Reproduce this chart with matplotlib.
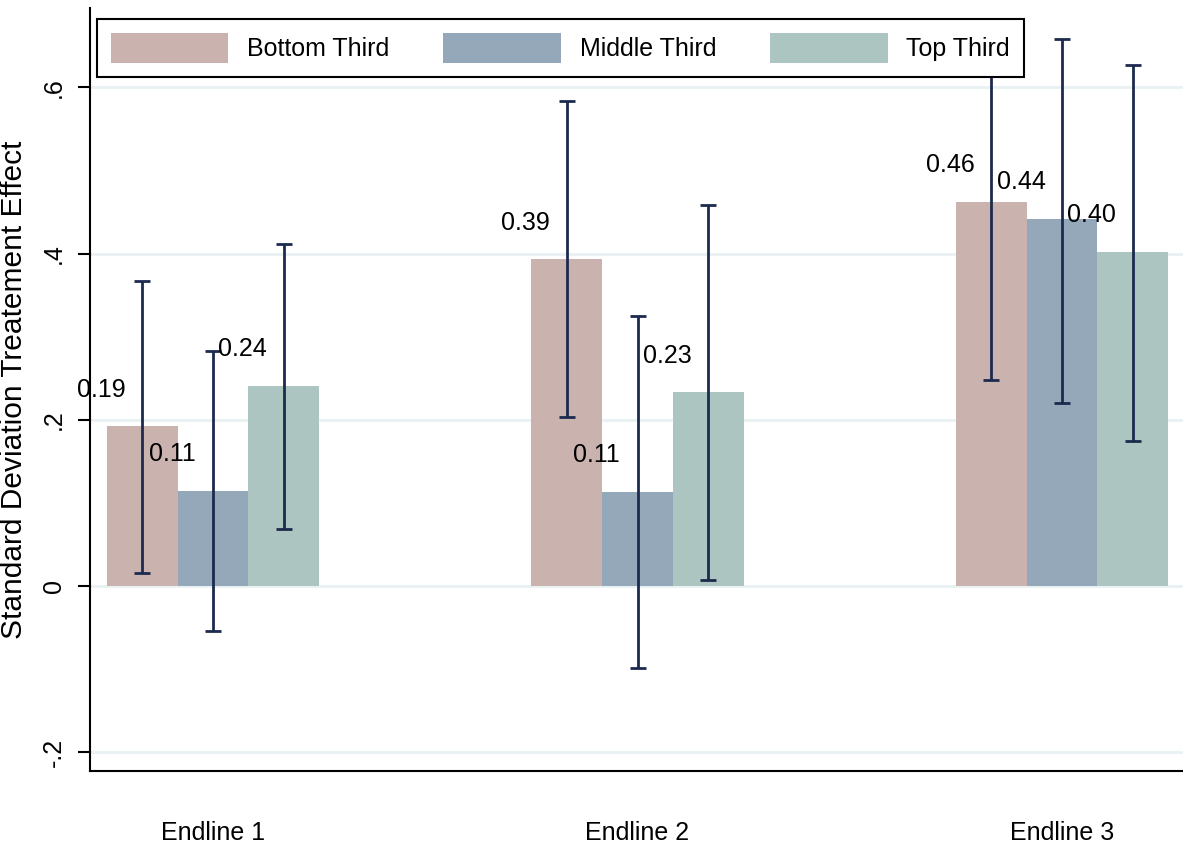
import matplotlib
matplotlib.use('Agg')
import matplotlib.pyplot as plt
import numpy as np

plt.rcParams['font.family'] = ['Liberation Sans', 'DejaVu Sans']

# data
rounds = ['Endline 1', 'Endline 2', 'Endline 3']
groups = ['Bottom Third', 'Middle Third', 'Top Third']
effects = {
    'Bottom Third': [0.192, 0.393, 0.462],
    'Middle Third': [0.114, 0.113, 0.442],
    'Top Third':    [0.241, 0.233, 0.402],
}
ci_low = {
    'Bottom Third': [0.016, 0.203, 0.248],
    'Middle Third': [-0.054, -0.099, 0.220],
    'Top Third':    [0.068, 0.007, 0.175],
}
ci_high = {
    'Bottom Third': [0.367, 0.583, 0.676],
    'Middle Third': [0.283, 0.325, 0.658],
    'Top Third':    [0.412, 0.459, 0.627],
}
yticks = [-0.2, 0, 0.2, 0.4, 0.6]
ytick_labels = ['-.2', '0', '.2', '.4', '.6']

colors = ['#cab2ae', '#95a8b9', '#adc5c0']
bar_color_err = '#1c2a4e'

fig = plt.figure(figsize=(11.83, 8.44), dpi=100)
ax = fig.add_axes([90 / 1183, 73 / 844, 1093 / 1183, 763 / 844])

x = np.arange(len(rounds))
w = 0.1666
for i, g in enumerate(groups):
    pos = x + (i - 1) * w
    vals = np.array(effects[g])
    lo = np.array(ci_low[g])
    hi = np.array(ci_high[g])
    ax.bar(pos, vals, width=w, color=colors[i], label=g, zorder=2)
    ax.errorbar(pos, vals, yerr=[vals - lo, hi - vals], fmt='none',
                ecolor=bar_color_err, elinewidth=2, capsize=6, capthick=2,
                zorder=3)
    for px, v in zip(pos, vals):
        ax.annotate('%.2f' % v, (px, v), xytext=(-29.5, 26.5),
                    textcoords='offset points', ha='center', va='center',
                    fontsize=18, clip_on=False, zorder=4)

ax.set_xlim(-0.2898, 2.285)
ax.set_ylim(-0.2226, 0.6955)
ax.set_yticks(yticks)
ax.set_yticklabels(ytick_labels, rotation=90, va='center', fontsize=18)
ax.set_xticks(x)
ax.set_xticklabels(rounds, fontsize=18)
ax.tick_params(axis='x', length=0, pad=36)
ax.tick_params(axis='y', length=8.5, width=1.5, pad=9)
ax.yaxis.grid(True, color='#e9f1f3', linewidth=2)
ax.set_axisbelow(True)

for s in ['top', 'right']:
    ax.spines[s].set_visible(False)
for s in ['left', 'bottom']:
    ax.spines[s].set_linewidth(1.5)

ax.set_ylabel('Standard Deviation Treatement Effect', fontsize=21.5, labelpad=10)

leg = ax.legend(loc='upper left', bbox_to_anchor=(97 / 1183, 1 - 19 / 844),
                bbox_transform=fig.transFigure, ncol=3, fontsize=18,
                frameon=True, fancybox=False, framealpha=1, edgecolor='black',
                handlelength=4.7, handleheight=1.5, handletextpad=0.76,
                columnspacing=2.15, borderpad=0.55, borderaxespad=0)
leg.get_frame().set_linewidth(1.5)
leg.set_zorder(10)

fig.savefig('out.png', dpi=100)
